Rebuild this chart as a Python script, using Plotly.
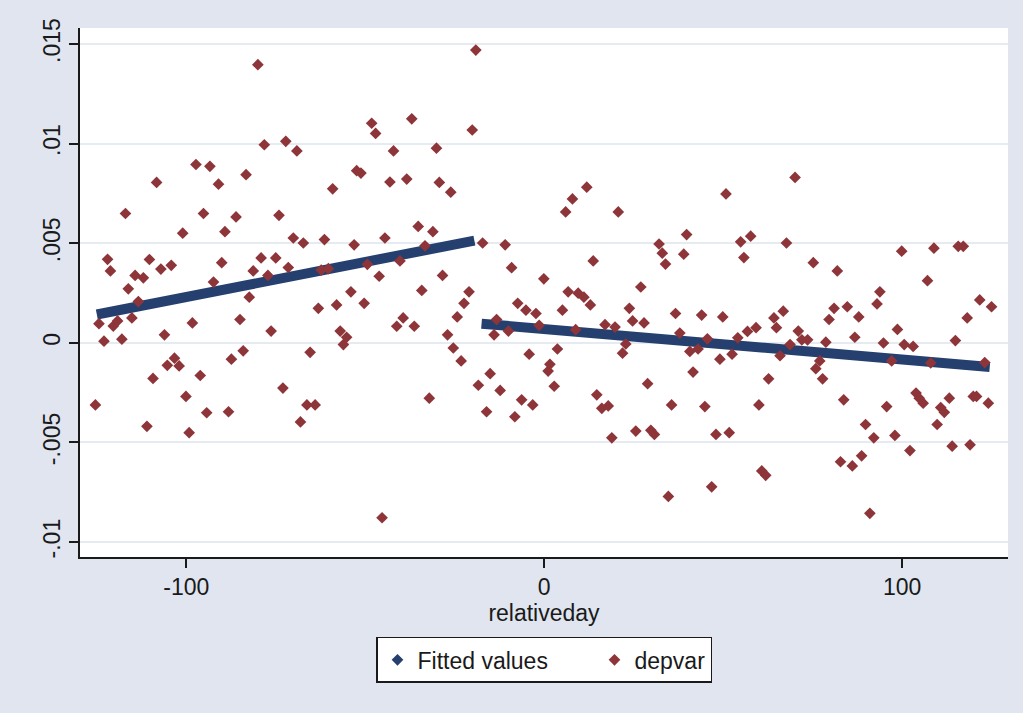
import plotly.graph_objects as go

# Observed outcome by day relative to the event (depvar)
day = [
    -97.3, -93.4, -108.3, -91.0, -117.0, -95.2, -86.1, -101.0, -89.2, -122.0,
    -110.3, -121.2, -107.1, -104.2, -90.1, -114.3, -112.0, -92.4, -116.2, -113.4,
    -124.4, -120.4, -119.2, -115.2, -98.3, -85.0, -123.0, -118.0, -106.1, -87.4,
    -103.3, -102.0, -105.3, -109.3, -96.1, -125.4, -100.1, -94.3, -88.2, -111.0,
    -99.2,
    -80.0, -78.2, -72.2, -69.1, -48.2, -47.1, -42.1, -83.3, -52.4, -51.2,
    -43.1, -59.1, -74.1, -70.1, -67.3, -61.4, -53.1, -44.5, -79.1, -75.0,
    -81.3, -71.5, -77.2, -62.3, -60.3, -49.4, -46.1, -82.4, -54.0, -76.3,
    -63.1, -58.0, -50.3, -57.0, -55.2, -56.1, -84.1, -65.4, -73.0, -66.3,
    -64.0, -68.1, -45.3,
    -19.1, -37.0, -20.1, -30.1, -38.4, -29.3, -26.1, -35.2, -31.1, -33.3,
    -17.2, -10.9, -40.3, -9.1, -0.1, -28.4, -34.2, -21.0, -22.4, -7.4,
    -5.1, -2.3, -24.3, -39.4, -41.2, -36.3, -13.3, -1.4, -27.0, -14.0,
    -10.0, -25.4, -23.2, -4.2, -15.1, -18.4, -12.3, -32.1, -6.3, -3.2,
    -16.1, -8.2,
    11.9, 7.9, 6.0, 20.7, 39.8, 32.1, 33.0, 33.9, 39.0, 13.7,
    27.0, 6.7, 9.5, 11.1, 12.9, 5.1, 23.8, 24.7, 27.9, 36.7,
    44.0, 17.0, 19.8, 8.8, 37.9, 45.6, 22.8, 21.9, 40.7, 43.0,
    3.7, 1.6, 1.1, 2.8, 41.6, 28.9, 14.7, 16.1, 17.9, 35.6,
    44.9, 18.9, 25.6, 29.8, 30.8, 34.7,
    70.1, 50.8, 54.9, 57.7, 55.8, 67.7, 75.2, 81.9, 49.9, 66.8,
    64.2, 64.9, 81.0, 84.7, 79.6, 59.2, 56.8, 54.1, 71.0, 72.0,
    73.6, 68.7, 78.7, 52.5, 49.1, 65.9, 77.0, 75.9, 77.8, 62.7,
    83.7, 60.0, 48.0, 51.7, 82.8, 86.1, 60.8, 61.9, 46.8,
    99.9, 108.9, 115.7, 117.1, 107.1, 93.8, 93.0, 87.9, 121.7, 125.0,
    118.2, 98.7, 86.8, 94.8, 100.6, 103.1, 114.9, 97.1, 108.0, 123.1,
    103.9, 104.8, 105.9, 95.7, 113.2, 110.8, 111.8, 119.9, 120.8, 124.1,
    89.8, 92.1, 98.0, 109.8, 102.2, 114.0, 119.0, 88.7, 91.0,
]

depvar = [
    0.00895, 0.00886, 0.00805, 0.00796, 0.00649, 0.00649, 0.00632, 0.00550, 0.00558, 0.00419,
    0.00418, 0.00361, 0.00370, 0.00389, 0.00402, 0.00338, 0.00326, 0.00305, 0.00271, 0.00207,
    0.00096, 0.00084, 0.00110, 0.00125, 0.00100, 0.00117, 0.00008, 0.00018, 0.00040, -0.00082,
    -0.00077, -0.00116, -0.00113, -0.00179, -0.00164, -0.00312, -0.00269, -0.00351, -0.00346, -0.00419,
    -0.00451,
    0.01396, 0.00994, 0.01011, 0.00963, 0.01102, 0.01051, 0.00963, 0.00844, 0.00864, 0.00852,
    0.00807, 0.00773, 0.00640, 0.00526, 0.00501, 0.00518, 0.00492, 0.00526, 0.00426, 0.00426,
    0.00361, 0.00378, 0.00338, 0.00365, 0.00372, 0.00394, 0.00334, 0.00229, 0.00256, 0.00059,
    0.00173, 0.00190, 0.00198, 0.00059, 0.00028, -0.00009, -0.00040, -0.00048, -0.00227, -0.00312,
    -0.00312, -0.00397, -0.00878,
    0.01469, 0.01124, 0.01068, 0.00977, 0.00822, 0.00805, 0.00756, 0.00584, 0.00558, 0.00487,
    0.00501, 0.00492, 0.00411, 0.00377, 0.00321, 0.00338, 0.00263, 0.00256, 0.00198, 0.00198,
    0.00164, 0.00147, 0.00130, 0.00125, 0.00083, 0.00083, 0.00117, 0.00088, 0.00040, 0.00040,
    0.00059, -0.00026, -0.00091, -0.00057, -0.00155, -0.00213, -0.00239, -0.00278, -0.00286, -0.00312,
    -0.00346, -0.00371,
    0.00781, 0.00722, 0.00657, 0.00657, 0.00543, 0.00496, 0.00450, 0.00395, 0.00445, 0.00411,
    0.00280, 0.00256, 0.00249, 0.00229, 0.00190, 0.00164, 0.00173, 0.00110, 0.00100, 0.00147,
    0.00139, 0.00091, 0.00079, 0.00066, 0.00049, 0.00020, -0.00006, -0.00052, -0.00043, -0.00031,
    -0.00031, -0.00108, -0.00142, -0.00218, -0.00147, -0.00205, -0.00261, -0.00329, -0.00317, -0.00312,
    -0.00320, -0.00477, -0.00443, -0.00439, -0.00460, -0.00771,
    0.00830, 0.00747, 0.00507, 0.00535, 0.00428, 0.00501, 0.00402, 0.00361, 0.00130, 0.00159,
    0.00125, 0.00076, 0.00173, 0.00181, 0.00117, 0.00076, 0.00057, 0.00025, 0.00059, 0.00015,
    0.00015, -0.00009, 0.00003, -0.00057, -0.00082, -0.00065, -0.00091, -0.00130, -0.00181, -0.00181,
    -0.00286, -0.00312, -0.00460, -0.00451, -0.00597, -0.00618, -0.00643, -0.00665, -0.00723,
    0.00460, 0.00475, 0.00484, 0.00484, 0.00312, 0.00256, 0.00195, 0.00130, 0.00215, 0.00181,
    0.00125, 0.00067, 0.00028, -0.00001, -0.00009, -0.00018, 0.00011, -0.00091, -0.00101, -0.00099,
    -0.00252, -0.00278, -0.00303, -0.00320, -0.00278, -0.00325, -0.00349, -0.00269, -0.00269, -0.00303,
    -0.00410, -0.00477, -0.00465, -0.00410, -0.00541, -0.00519, -0.00512, -0.00567, -0.00856,
]

# Linear fits on either side of the break (endpoints of each fitted segment)
fit_pre_day = [-125.0, -19.5]
fit_pre_val = [0.00142, 0.00513]
fit_post_day = [-17.5, 124.5]
fit_post_val = [0.00096, -0.00121]

# Axis ticks
x_ticks = [-100, 0, 100]
x_tick_text = ["-100", "0", "100"]
y_ticks = [-0.01, -0.005, 0, 0.005, 0.01, 0.015]
y_tick_text = ["-.01", "-.005", "0", ".005", ".01", ".015"]

NAVY = "#25406F"
MAROON = "#8E353A"
INK = "#1A1A1A"
FONT = "Liberation Sans, Arial, sans-serif"

fig = go.Figure()

# legend entry for the fitted values
fig.add_trace(go.Scatter(
    x=[None], y=[None], mode="markers", name="Fitted values",
    marker=dict(symbol="diamond", size=9, color=NAVY),
    legendwidth=172,
))

for fx, fy in ((fit_pre_day, fit_pre_val), (fit_post_day, fit_post_val)):
    fig.add_trace(go.Scatter(
        x=fx, y=fy, mode="lines", showlegend=False, hoverinfo="skip",
        line=dict(color=NAVY, width=10),
    ))

fig.add_trace(go.Scatter(
    x=day, y=depvar, mode="markers", name="depvar",
    marker=dict(symbol="diamond", size=9, color=MAROON),
))

fig.update_layout(
    width=1023, height=713,
    margin=dict(l=80, r=15, t=28, b=156),
    paper_bgcolor="#E0E5EF",
    plot_bgcolor="white",
    font=dict(family=FONT, size=23, color=INK),
    showlegend=True,
    xaxis=dict(
        range=[-129.7, 129.6],
        tickvals=x_ticks, ticktext=x_tick_text,
        ticks="outside", ticklen=9, tickwidth=1.5, tickcolor=INK,
        showline=True, linecolor=INK, linewidth=1.5,
        showgrid=False, zeroline=False,
        title=dict(text="relativeday", standoff=0,
                   font=dict(family=FONT, size=23, color=INK)),
    ),
    yaxis=dict(
        range=[-0.01075, 0.0158],
        tickvals=y_ticks, ticktext=y_tick_text, tickangle=-90,
        ticks="outside", ticklen=9, tickwidth=1.5, tickcolor=INK,
        showline=True, linecolor=INK, linewidth=1.5,
        showgrid=True, gridcolor="#E6EBF2", gridwidth=2,
        zeroline=False,
    ),
    legend=dict(
        orientation="h", x=0.5, xanchor="center", y=-0.151, yanchor="top",
        bgcolor="white", bordercolor=INK, borderwidth=1.5,
        font=dict(family=FONT, size=23, color=INK),
    ),
)

fig.write_html("out.html")
